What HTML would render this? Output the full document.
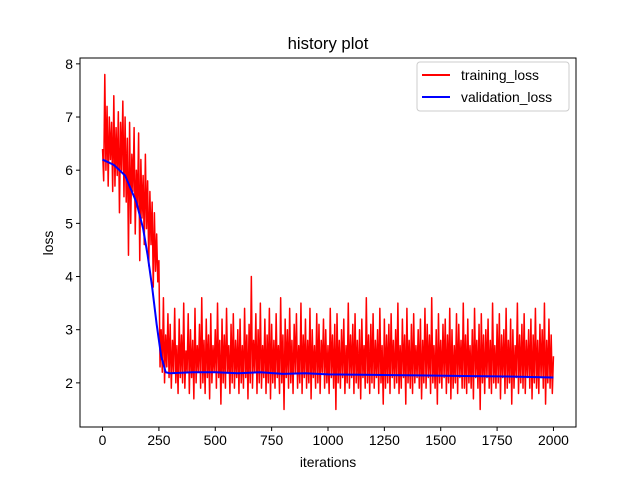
<!DOCTYPE html>
<html><head><meta charset="utf-8"><style>
body{margin:0;background:#fff;}
svg text{font-family:"Liberation Sans","DejaVu Sans",sans-serif;}
</style></head><body>
<svg id="chart" width="640" height="480" viewBox="0 0 640 480">
<rect width="640" height="480" fill="#fff"/>
<text x="328" y="49" font-size="16.7" text-anchor="middle">history plot</text>
<g id="plot"></g>
<g id="axes"></g>
<rect x="80" y="58" width="496" height="369" fill="none" stroke="#000" stroke-width="1"/>
<text x="328" y="467" font-size="13.9" text-anchor="middle">iterations</text>
<text x="0" y="0" font-size="13.9" text-anchor="middle" transform="translate(53,243) rotate(-90)">loss</text>
<g>
<rect x="417" y="62" width="152" height="49" rx="3" fill="#fff" fill-opacity="0.8" stroke="#ccc"/>
<line x1="422" y1="75" x2="450" y2="75" stroke="#f00" stroke-width="2"/>
<text x="461" y="80" font-size="13.9">training_loss</text>
<line x1="422" y1="97" x2="450" y2="97" stroke="#00f" stroke-width="2"/>
<text x="461" y="102" font-size="13.9">validation_loss</text>
</g>
</svg>
<script>
const xTicks=[0,250,500,750,1000,1250,1500,1750,2000];
const yTicks=[2,3,4,5,6,7,8];
const trainStep=5;
const trainLoss=[
6.4,5.8,7.8,6.0,7.2,5.7,7.0,6.2,6.9,5.6,7.4,5.7,6.8,5.9,7.1,5.2,6.9,6.0,7.3,5.5,
7.0,5.4,6.6,4.4,6.9,5.0,6.3,5.6,6.8,4.8,6.0,5.3,6.7,4.3,6.2,5.1,5.9,4.6,6.3,4.9,
5.8,4.2,5.6,4.6,5.4,3.8,5.2,4.1,4.8,3.9,4.3,2.3,3.0,2.2,3.6,2.0,2.9,2.3,3.3,2.1,
3.1,1.9,2.8,2.2,3.4,2.0,2.7,1.8,3.2,2.1,2.9,2.0,3.5,1.9,2.6,2.2,3.3,1.8,3.0,2.1,
2.8,1.7,3.4,2.0,2.7,2.2,3.1,1.9,3.6,2.0,2.8,1.8,3.2,2.1,2.9,1.7,3.3,2.0,2.7,2.2,
3.0,1.9,3.5,2.1,2.8,1.6,3.2,2.0,2.9,1.9,3.4,2.2,2.7,1.8,3.1,2.0,3.3,1.9,2.8,2.1,
3.0,1.8,3.2,2.0,2.7,1.9,3.4,2.1,2.9,1.7,3.1,2.0,4.0,1.9,2.8,2.2,3.3,1.8,3.0,2.0,
3.5,1.9,2.7,2.1,3.2,1.8,2.9,2.0,3.4,1.7,3.1,2.0,2.8,1.9,3.3,2.1,2.7,1.8,3.6,2.0,
2.9,1.5,3.2,2.1,3.0,1.9,3.4,2.0,2.8,1.8,3.1,2.2,3.3,1.9,2.7,2.0,3.5,1.8,2.9,2.1,
3.2,1.9,2.8,2.0,3.4,1.7,3.0,2.1,2.7,1.9,3.3,2.0,3.1,1.8,2.8,2.2,3.2,1.9,3.0,2.0,
2.7,1.8,3.4,2.1,2.9,1.9,3.1,1.5,3.3,2.0,2.8,1.9,3.0,2.1,3.2,1.8,2.7,2.0,3.5,1.9,
2.9,2.1,3.1,1.8,3.3,2.0,2.8,1.9,3.0,1.7,3.2,2.1,2.7,1.9,3.6,2.0,2.9,1.8,3.1,2.0,
3.3,1.9,2.8,2.1,3.0,1.8,3.4,2.0,2.7,1.6,3.2,1.9,2.9,2.0,3.1,1.8,3.3,2.1,2.8,1.9,
3.0,2.0,3.5,1.8,2.7,1.9,3.2,2.1,2.9,1.6,3.4,2.0,2.8,1.9,3.1,1.8,3.3,2.0,2.7,2.1,
3.0,1.9,3.2,1.7,2.8,2.0,3.4,1.9,3.1,2.1,2.9,1.8,3.6,2.0,2.7,1.9,3.0,1.6,3.3,2.0,
2.8,1.9,3.1,2.1,3.2,1.8,2.9,2.0,3.4,1.7,3.0,1.9,2.7,2.0,3.3,1.8,3.1,2.1,2.8,1.9,
3.5,1.9,2.9,1.8,3.2,2.0,2.7,1.9,3.0,1.7,3.4,2.1,2.8,1.9,3.1,1.5,3.3,2.0,2.9,1.8,
3.0,2.1,3.2,1.9,2.8,1.8,3.5,2.0,2.7,1.9,3.1,2.0,3.3,1.7,2.9,2.1,3.0,1.8,3.4,1.9,
2.8,2.0,3.2,1.6,3.0,1.9,2.7,2.1,3.5,1.8,2.9,2.0,3.1,1.9,3.3,1.8,2.8,2.1,3.0,1.9,
3.2,1.7,2.9,2.0,3.4,1.9,2.8,1.8,3.1,2.1,3.0,1.9,3.5,1.6,2.8,2.0,3.2,1.9,2.9,1.8,
2.5];
const valIters=[0,50,100,150,180,200,220,240,260,280,300,400,500,600,700,800,900,1000,1200,1400,1600,1800,2000];
const valLoss=[6.2,6.1,5.9,5.4,4.9,4.4,3.8,3.1,2.5,2.2,2.18,2.2,2.2,2.18,2.2,2.17,2.18,2.16,2.15,2.14,2.13,2.12,2.1];
const NS='http://www.w3.org/2000/svg';
const X0=80,X1=576,Y0=58,Y1=427;
const xmin=-100,xmax=2100,ymin=1.17,ymax=8.11;
const xs=v=>X0+(v-xmin)/(xmax-xmin)*(X1-X0);
const ys=v=>Y1-(v-ymin)/(ymax-ymin)*(Y1-Y0);
const plot=document.getElementById('plot'),axes=document.getElementById('axes');
function mk(t,a,p){const e=document.createElementNS(NS,t);for(const k in a)e.setAttribute(k,a[k]);p.appendChild(e);return e;}
const tr=mk('polyline',{points:trainLoss.map((v,i)=>xs(i*trainStep)+','+ys(v)).join(' '),fill:'none',stroke:'#f00','stroke-width':1.5,'stroke-linejoin':'round'},plot);


const vl=mk('polyline',{points:valIters.map((x,i)=>xs(x)+','+ys(valLoss[i])).join(' '),fill:'none',stroke:'#00f','stroke-width':2,'stroke-linejoin':'round'},plot);


xTicks.forEach(t=>{const x=xs(t);
 const l=mk('line',{x1:x,x2:x,y1:Y1,y2:Y1+4,stroke:'#000'},axes);
 
 
 const tx=mk('text',{x:x,y:Y1+18,'font-size':13.9,'text-anchor':'middle'},axes);tx.textContent=t;
 
 });
yTicks.forEach(t=>{const y=ys(t);
 const l=mk('line',{x1:X0-4,x2:X0,y1:y,y2:y,stroke:'#000'},axes);
 
 
 const tx=mk('text',{x:X0-7,y:y+5,'font-size':13.9,'text-anchor':'end'},axes);tx.textContent=t;
 
 });
</script>
</body></html>
